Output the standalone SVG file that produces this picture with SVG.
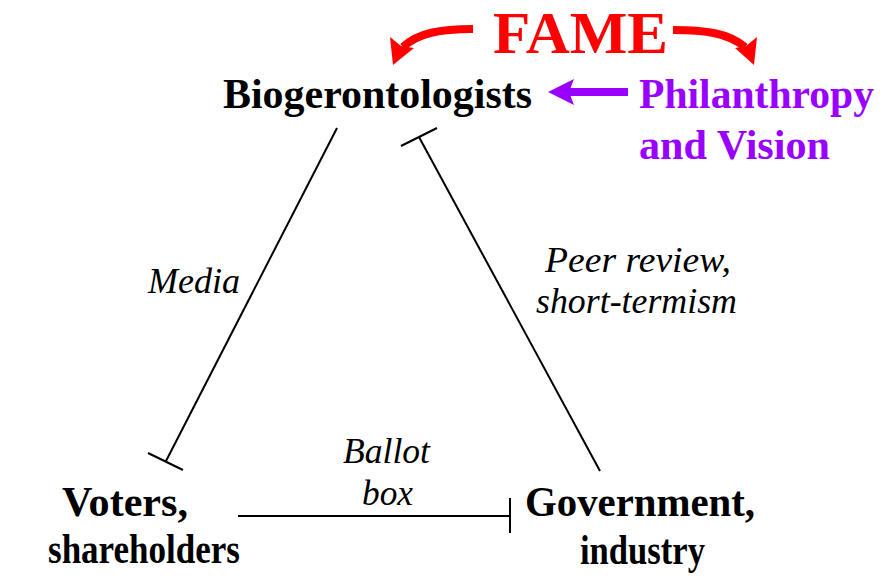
<svg xmlns="http://www.w3.org/2000/svg" width="888" height="579" viewBox="0 0 888 579">
<style>
text{font-family:Liberation Serif, DejaVu Serif, FreeSerif, serif}
.node{font-weight:bold;font-size:42px;fill:#000}
.lbl{font-style:italic;font-size:36px;fill:#000}
.edge{stroke:#000;stroke-width:2;fill:none}
.red{fill:#ff0000}
.redline{stroke:#ff0000;stroke-width:8;fill:none}
</style>
<rect width="888" height="579" fill="#fff"/>
<g id="connectors">
<line class="edge" x1="337" y1="128" x2="166" y2="461"/>
<line class="edge" x1="148" y1="453" x2="183" y2="470"/>
<line class="edge" x1="600" y1="471" x2="419" y2="137"/>
<line class="edge" x1="401" y1="146" x2="437" y2="128"/>
<line class="edge" x1="238" y1="516" x2="510" y2="516"/>
<line class="edge" x1="510" y1="498" x2="510" y2="533"/>
<text class="lbl" x="148" y="293" textLength="92" lengthAdjust="spacingAndGlyphs">Media</text>
<text class="lbl" x="545" y="272" textLength="186" lengthAdjust="spacingAndGlyphs">Peer review,</text>
<text class="lbl" x="536" y="313" textLength="201" lengthAdjust="spacingAndGlyphs">short-termism</text>
<text class="lbl" x="343" y="463" textLength="87" lengthAdjust="spacingAndGlyphs">Ballot</text>
<text class="lbl" x="362" y="505" textLength="51" lengthAdjust="spacingAndGlyphs">box</text>
</g>
<g id="fame">
<text x="493" y="53" font-weight="bold" font-size="60" fill="#ff0000" textLength="175" lengthAdjust="spacingAndGlyphs">FAME</text>
<path class="redline" d="M473,29 C440,29 418,33 403,47"/>
<polygon class="red" points="393,65 390,37 401,46 414,48"/>
<path class="redline" d="M673,30 C706,30 728,33 745,47"/>
<polygon class="red" points="754,65 757,37 746,46 735,48"/>
</g>
<g id="biogerontologists">
<text class="node" x="223" y="108" textLength="309" lengthAdjust="spacingAndGlyphs">Biogerontologists</text>
</g>
<g id="philanthropy">
<line x1="628" y1="92" x2="568" y2="92" stroke="#9900ff" stroke-width="8"/>
<polygon points="548,92 574,79 569,92 574,105" fill="#9900ff"/>
<text class="node" x="639" y="108" style="fill:#9900ff" textLength="235" lengthAdjust="spacingAndGlyphs">Philanthropy</text>
<text class="node" x="639" y="159" style="fill:#9900ff" textLength="191" lengthAdjust="spacingAndGlyphs">and Vision</text>
</g>
<g id="voters">
<text class="node" x="62" y="516" textLength="126" lengthAdjust="spacingAndGlyphs">Voters,</text>
<text class="node" x="48" y="563" textLength="192" lengthAdjust="spacingAndGlyphs">shareholders</text>
</g>
<g id="government">
<text class="node" x="525" y="516" textLength="230" lengthAdjust="spacingAndGlyphs">Government,</text>
<text class="node" x="580" y="564" textLength="125" lengthAdjust="spacingAndGlyphs">industry</text>
</g>
</svg>
